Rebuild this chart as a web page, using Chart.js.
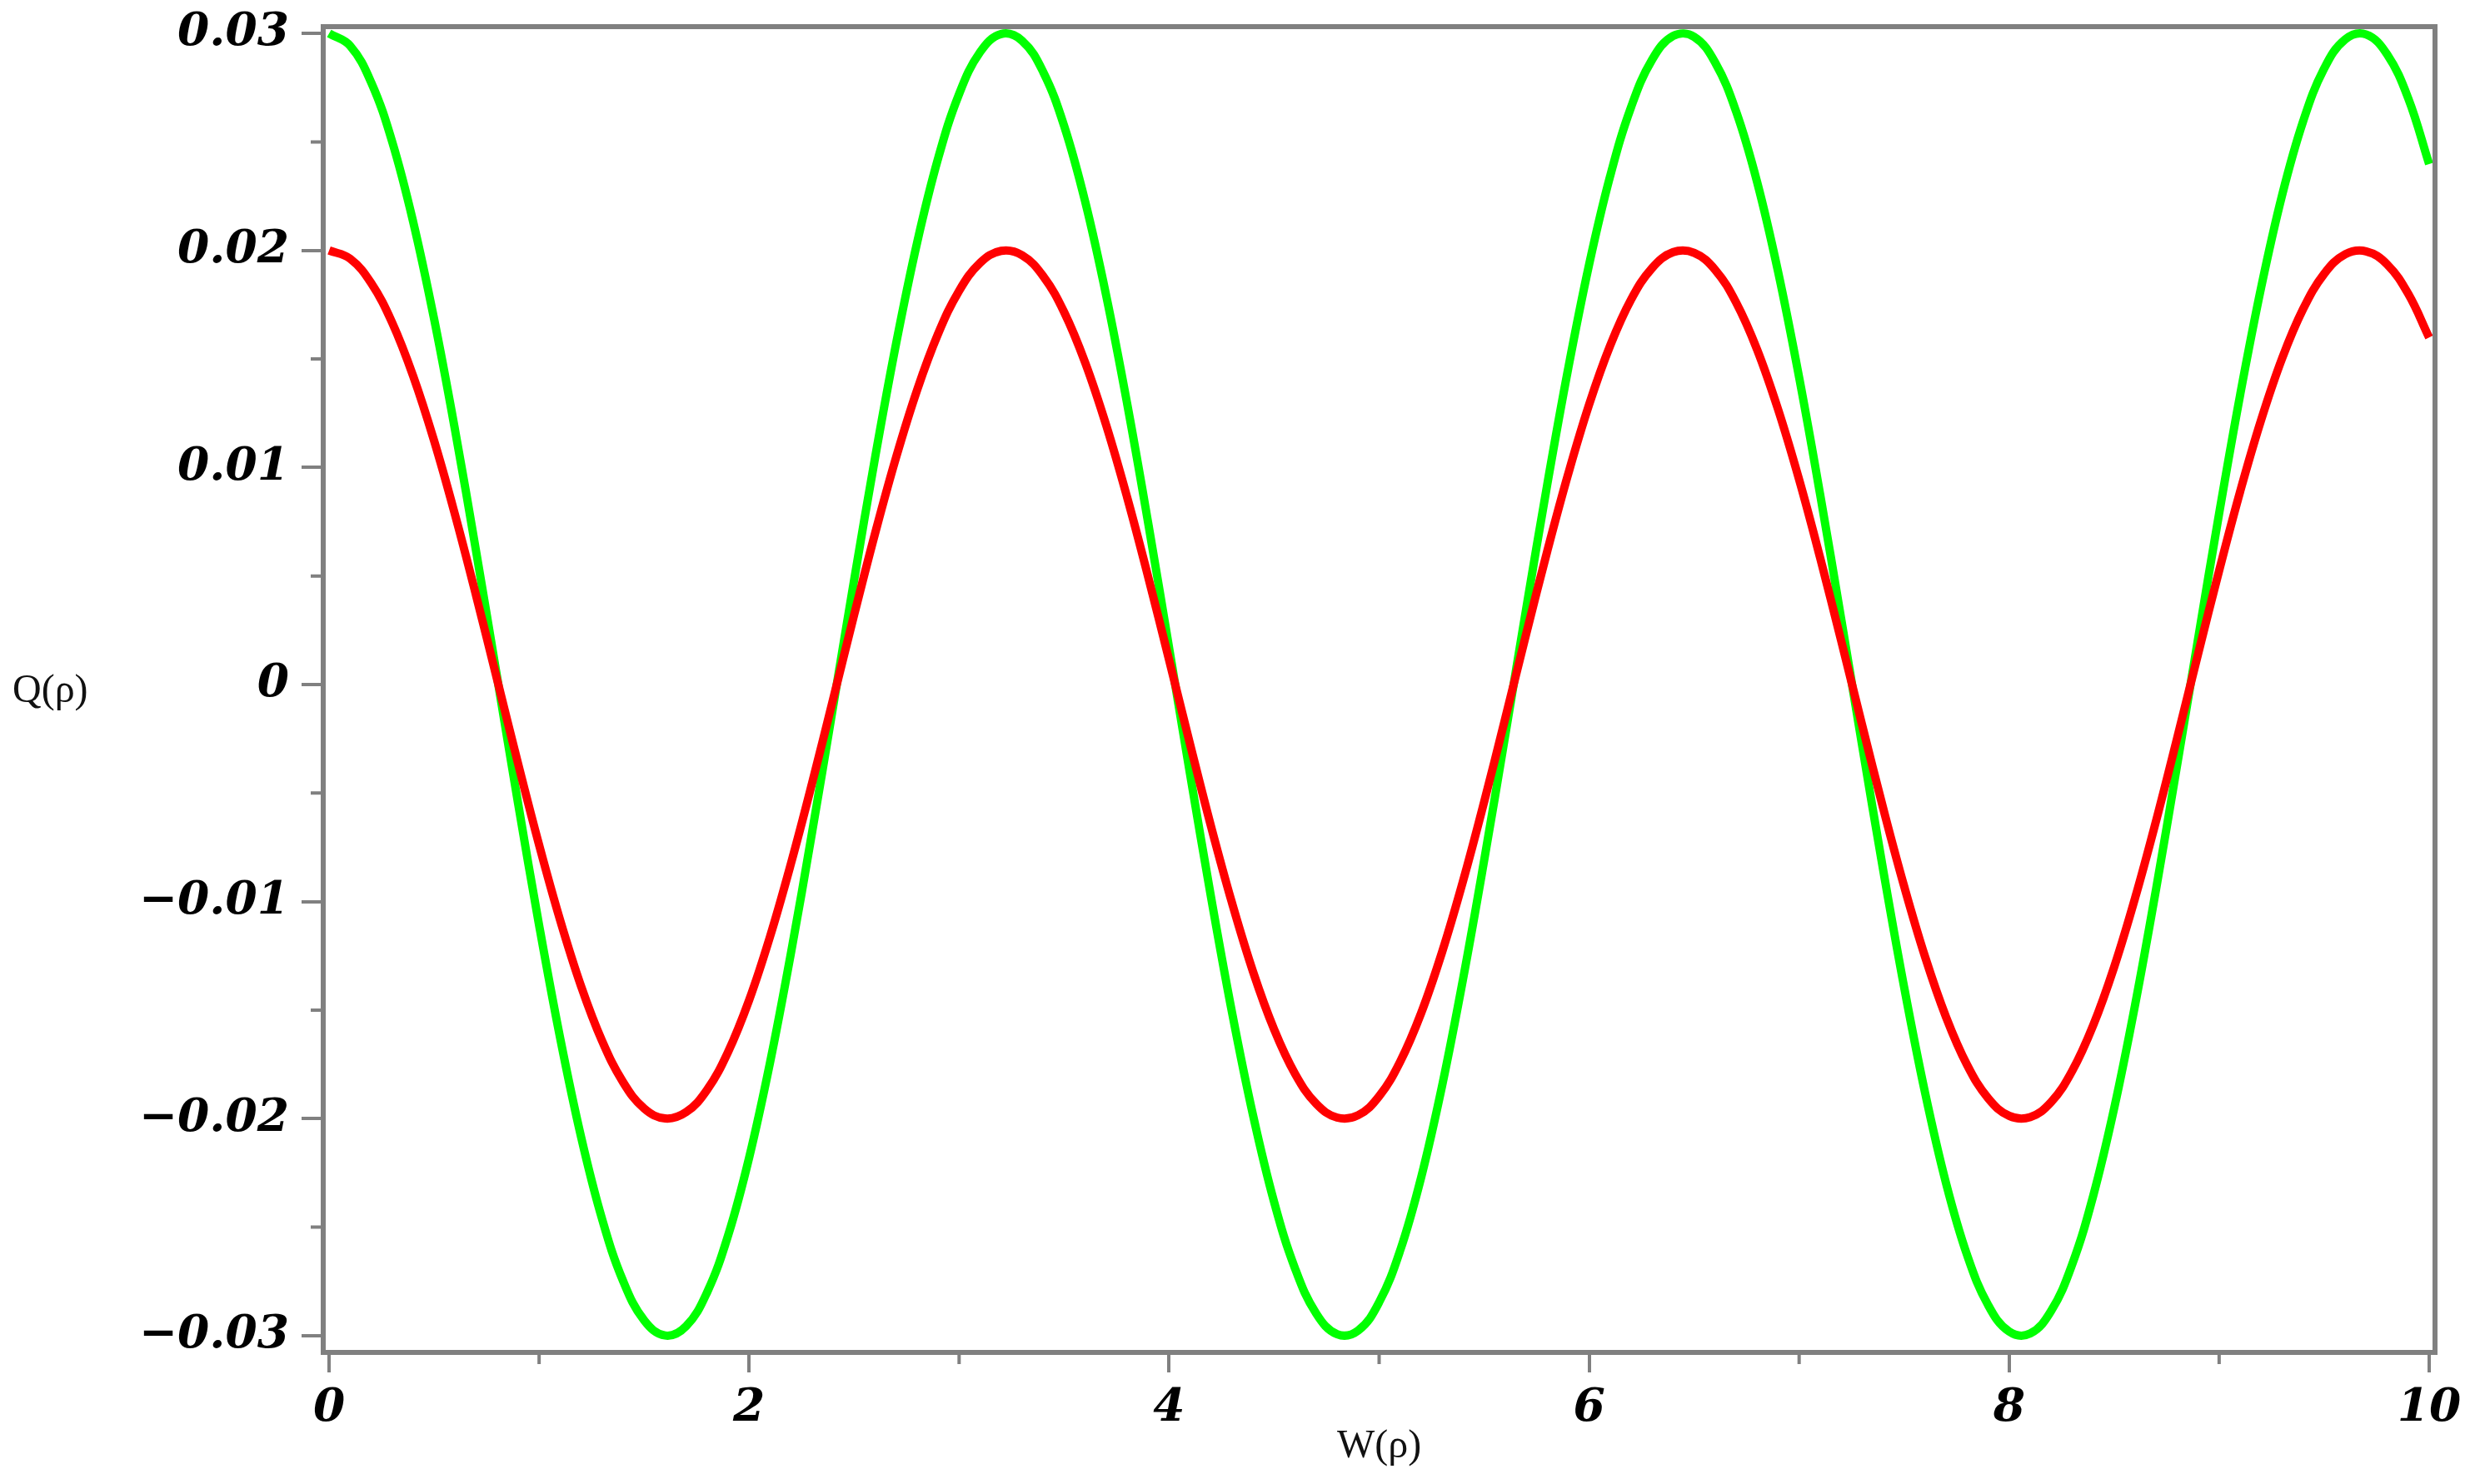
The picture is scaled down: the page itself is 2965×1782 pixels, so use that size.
<!DOCTYPE html>
<html><head><meta charset="utf-8">
<script src="https://cdn.jsdelivr.net/npm/chart.js@4.4.0/dist/chart.umd.min.js"></script>
<style>html,body{margin:0;padding:0;background:#fff;overflow:hidden}#wrap{width:2965px;height:1782px;position:relative}canvas{display:block}</style>
</head><body><div id="wrap"><canvas id="c" width="2965" height="1782"></canvas></div>
<script>
const xValues = [0,0.1,0.2,0.3,0.4,0.5,0.6,0.7,0.8,0.9,1,1.1,1.2,1.3,1.4,1.5,1.6,1.7,1.8,1.9,2,2.1,2.2,2.3,2.4,2.5,2.6,2.7,2.8,2.9,3,3.1,3.2,3.3,3.4,3.5,3.6,3.7,3.8,3.9,4,4.1,4.2,4.3,4.4,4.5,4.6,4.7,4.8,4.9,5,5.1,5.2,5.3,5.4,5.5,5.6,5.7,5.8,5.9,6,6.1,6.2,6.3,6.4,6.5,6.6,6.7,6.8,6.9,7,7.1,7.2,7.3,7.4,7.5,7.6,7.7,7.8,7.9,8,8.1,8.2,8.3,8.4,8.5,8.6,8.7,8.8,8.9,9,9.1,9.2,9.3,9.4,9.5,9.6,9.7,9.8,9.9,10];
const greenValues = [0.03,0.02943,0.02775,0.02502,0.02133,0.01684,0.01171,0.00614,0.00034,-0.00548,-0.01109,-0.01628,-0.02085,-0.02463,-0.02748,-0.02929,-0.02999,-0.02956,-0.02800,-0.02538,-0.02180,-0.01740,-0.01233,-0.00680,-0.00101,0.00481,0.01046,0.01571,0.02036,0.02424,0.02721,0.02914,0.02997,0.02966,0.02823,0.02574,0.02226,0.01794,0.01295,0.00746,0.00169,-0.00414,-0.00982,-0.01513,-0.01986,-0.02384,-0.02691,-0.02897,-0.02993,-0.02976,-0.02846,-0.02608,-0.02271,-0.01848,-0.01355,-0.00811,-0.00237,0.00347,0.00918,0.01454,0.01935,0.02342,0.02661,0.02879,0.02988,0.02984,0.02866,0.02640,0.02315,0.01901,0.01415,0.00876,0.00304,-0.00280,-0.00853,-0.01394,-0.01882,-0.02299,-0.02629,-0.02859,-0.02981,-0.02990,-0.02886,-0.02672,-0.02357,-0.01953,-0.01475,-0.00941,-0.00371,0.00212,0.00788,0.01334,0.01829,0.02255,0.02595,0.02838,0.02972,0.02995,0.02903,0.02702,0.02398];
const redValues = [0.02,0.01962,0.01850,0.01668,0.01422,0.01123,0.00781,0.00410,0.00023,-0.00365,-0.00739,-0.01085,-0.01390,-0.01642,-0.01832,-0.01953,-0.01999,-0.01970,-0.01867,-0.01692,-0.01454,-0.01160,-0.00822,-0.00454,-0.00068,0.00321,0.00697,0.01047,0.01357,0.01616,0.01814,0.01943,0.01998,0.01978,0.01882,0.01716,0.01484,0.01196,0.00863,0.00497,0.00113,-0.00276,-0.00655,-0.01008,-0.01324,-0.01589,-0.01794,-0.01931,-0.01995,-0.01984,-0.01897,-0.01738,-0.01514,-0.01232,-0.00904,-0.00541,-0.00158,0.00232,0.00612,0.00969,0.01290,0.01561,0.01774,0.01919,0.01992,0.01989,0.01911,0.01760,0.01543,0.01267,0.00944,0.00584,0.00203,-0.00187,-0.00569,-0.00929,-0.01255,-0.01533,-0.01753,-0.01906,-0.01987,-0.01993,-0.01924,-0.01781,-0.01571,-0.01302,-0.00983,-0.00627,-0.00247,0.00142,0.00525,0.00889,0.01219,0.01503,0.01730,0.01892,0.01982,0.01996,0.01936,0.01801,0.01599];
const xTickValues = [0,2,4,6,8,10];
const xMinorTickValues = [1,3,5,7,9];
const yTickValues = [-0.03,-0.02,-0.01,0,0.01,0.02,0.03];
const yMinorTickValues = [-0.025,-0.015,-0.005,0.005,0.015,0.025];
const xTitle = 'W(ρ)';
const yTitle = 'Q(ρ)';

const AXIS_GRAY = '#808080';
const tickFont = {family:"'DejaVu Serif'", size:55, style:'italic', weight:'bold'};

function fmtY(v){
  if (Math.abs(v) < 1e-12) return '0';
  return (v < 0 ? '\u2212' : '') + Math.abs(v).toFixed(2);
}

const framePlugin = {
  id:'frame',
  afterDatasetsDraw(chart){
    const ctx = chart.ctx, a = chart.chartArea;
    const xs = chart.scales.x, ys = chart.scales.y;
    ctx.save();
    ctx.strokeStyle = AXIS_GRAY;
    ctx.lineWidth = 6;
    ctx.beginPath();
    ctx.moveTo(a.left - 3, a.top); ctx.lineTo(a.right + 3, a.top);
    ctx.moveTo(a.right, a.top - 3); ctx.lineTo(a.right, a.bottom + 3);
    ctx.stroke();
    ctx.lineWidth = 4;
    ctx.beginPath();
    yMinorTickValues.forEach(v => { const y = ys.getPixelForValue(v); ctx.moveTo(a.left - 15, y); ctx.lineTo(a.left, y); });
    xMinorTickValues.forEach(v => { const x = xs.getPixelForValue(v); ctx.moveTo(x, a.bottom); ctx.lineTo(x, a.bottom + 14); });
    ctx.stroke();
    ctx.fillStyle = '#111';
    ctx.font = "48px 'Liberation Serif'";
    ctx.textBaseline = 'middle';
    ctx.textAlign = 'left';
    ctx.fillText(yTitle, 15, 830);
    ctx.textAlign = 'center';
    ctx.fillText(xTitle, (a.left + a.right) / 2, 1737);
    ctx.restore();
  }
};

new Chart(document.getElementById('c').getContext('2d'), {
  type:'line',
  data:{datasets:[
    {label:'red', data:xValues.map((x,i)=>({x:x, y:redValues[i]})), borderColor:'#ff0000', borderWidth:10, pointRadius:0, tension:0.4, fill:false},
    {label:'green', data:xValues.map((x,i)=>({x:x, y:greenValues[i]})), borderColor:'#00ff00', borderWidth:10, pointRadius:0, tension:0.4, fill:false}
  ]},
  options:{
    responsive:false, devicePixelRatio:1, animation:false,
    plugins:{legend:{display:false}, tooltip:{enabled:false}},
    layout:{padding:{top:32, right:42, left:0, bottom:0}},
    scales:{
      x:{type:'linear', min:-0.028, max:10.028,
        afterBuildTicks:s=>{ s.ticks = xTickValues.map(v=>({value:v})); },
        afterFit:s=>{ s.height = 158; s.paddingLeft = 0; s.paddingRight = 0; },
        grid:{display:true, drawOnChartArea:false, drawTicks:true, tickLength:24, color:AXIS_GRAY, lineWidth:4},
        border:{display:true, color:AXIS_GRAY, width:6},
        ticks:{font:tickFont, color:'#000', padding:11, maxRotation:0, autoSkip:false, callback:v=>String(v)}
      },
      y:{type:'linear', min:-0.03077, max:0.03031,
        afterBuildTicks:s=>{ s.ticks = yTickValues.map(v=>({value:v})); },
        afterFit:s=>{ s.width = 388; s.paddingTop = 0; s.paddingBottom = 0; },
        grid:{display:true, drawOnChartArea:false, drawTicks:true, tickLength:26, color:AXIS_GRAY, lineWidth:4},
        border:{display:true, color:AXIS_GRAY, width:6},
        ticks:{font:tickFont, color:'#000', padding:15, autoSkip:false, callback:v=>fmtY(v)}
      }
    }
  },
  plugins:[framePlugin]
});
</script>
</body></html>
